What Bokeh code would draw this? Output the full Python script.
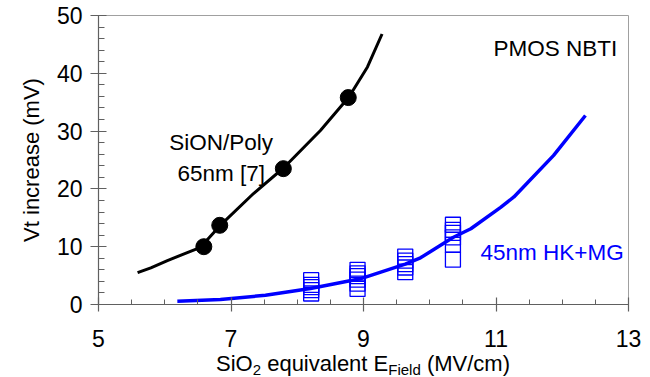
import numpy as np
from bokeh.plotting import figure
from bokeh.models import Range1d, FixedTicker, SingleIntervalTicker, Label, Div
from bokeh.layouts import column
from bokeh.embed import file_html
from bokeh.resources import INLINE

# ---- data ----
sion_x = [6.59, 6.83, 7.79, 8.77]
sion_y = [10.0, 13.7, 23.5, 35.8]

sion_fit_x = [5.59, 5.79, 6.04, 6.54, 6.83, 7.34, 7.80, 8.35, 8.78, 9.06, 9.28]
sion_fit_y = [5.5, 6.35, 7.6, 9.9, 13.6, 19.2, 23.7, 30.1, 35.9, 41.1, 46.8]

hk_x = [8.21] * 5 + [8.91] * 6 + [9.63] * 5 + [10.35] * 6
hk_y = [4.2, 3.4, 3.0, 2.5, 1.9,
        6.0, 5.4, 4.9, 4.3, 3.6, 2.7,
        8.3, 7.6, 7.0, 6.4, 5.6,
        13.8, 12.9, 12.4, 11.6, 10.3, 7.75]

hk_fit_x = [6.19, 6.84, 7.52, 8.20, 8.95, 9.63, 9.86, 10.35, 10.62, 11.07, 11.27, 11.87, 12.35]
hk_fit_y = [0.57, 0.87, 1.6, 2.77, 4.44, 7.0, 8.07, 11.6, 13.1, 16.8, 18.6, 25.8, 32.7]

x_ticks = [5, 7, 9, 11, 13]
x_start, x_end = 5, 13
y_start, y_end, y_step = 0, 50, 10

FONT = "Liberation Sans"
BLUE = "#0000ff"

W = 650
FIG_H = 364
L, R, T, B = 98, 22, 15, 60

p = figure(width=W, height=FIG_H, x_range=Range1d(x_start, x_end), y_range=Range1d(y_start, y_end),
           output_backend="svg", toolbar_location=None,
           min_border_left=L, min_border_right=R, min_border_top=T, min_border_bottom=B)
p.xgrid.visible = False
p.ygrid.visible = False
p.outline_line_color = "#a0a0a0"
p.outline_line_width = 1
p.background_fill_color = "white"
p.border_fill_color = "white"

p.xaxis.ticker = FixedTicker(ticks=x_ticks,
                             minor_ticks=list(np.arange(x_start, x_end + 0.01, 0.5)))
p.yaxis.ticker = SingleIntervalTicker(interval=y_step, num_minor_ticks=5)

for ax in (p.xaxis[0], p.yaxis[0]):
    ax.axis_line_color = "#606060"
    ax.axis_line_width = 1.2
    ax.major_tick_line_color = "#606060"
    ax.minor_tick_line_color = "#606060"
    ax.major_tick_line_width = 1.2
    ax.minor_tick_line_width = 1
    ax.major_label_text_font = FONT
    ax.major_label_text_font_size = "23px"
    ax.major_label_text_color = "black"

p.xaxis.major_tick_in = 7
p.xaxis.major_tick_out = 7
p.xaxis.minor_tick_in = 5
p.xaxis.minor_tick_out = 0
p.xaxis.major_label_standoff = 18

p.yaxis.major_tick_in = 8
p.yaxis.major_tick_out = 8
p.yaxis.minor_tick_in = 6
p.yaxis.minor_tick_out = 0
p.yaxis.major_label_standoff = 8
p.yaxis.axis_label = "Vt increase (mV)"
p.yaxis.axis_label_text_font = FONT
p.yaxis.axis_label_text_font_size = "22px"
p.yaxis.axis_label_text_font_style = "normal"
p.yaxis.axis_label_text_color = "black"
p.yaxis.axis_label_standoff = 10

# ---- marks ----
p.line(sion_fit_x, sion_fit_y, line_color="black", line_width=3)
p.scatter(sion_x, sion_y, marker="circle", size=16, fill_color="black", line_color="black")

p.line(hk_fit_x, hk_fit_y, line_color=BLUE, line_width=3.5)
p.scatter(hk_x, hk_y, marker="square", size=15, fill_color=None, line_color=BLUE, line_width=1.3)

# ---- helpers for positioning text in pixels ----
fw = W - L - R
fh = FIG_H - T - B
def sx(px):
    return x_start + (px - L) * (x_end - x_start) / fw
def sy(py):
    return y_start + (T + fh - py) * (y_end - y_start) / fh

def lab(text, px, py, size="22.5px", color="black", align="left"):
    p.add_layout(Label(x=sx(px), y=sy(py), text=text, text_font=FONT, text_font_size=size,
                       text_color=color, text_align=align, text_baseline="alphabetic"))

lab("PMOS NBTI", 493, 48)
lab("SiON/Poly", 220.7, 141.7, align="center")
lab("65nm [7]", 220.7, 173, align="center")
lab("45nm HK+MG", 480, 251.7, color=BLUE)

# x-axis title with real subscripts, as HTML text below the plot
sub = "font-size:15px;position:relative;top:4px;"
xlabel_html = (
    f'<div style="position:relative;top:-11px;width:{fw}px;margin-left:{L}px;'
    f'text-align:center;font-family:\'{FONT}\';font-size:22px;line-height:22px;'
    f'white-space:nowrap;color:black;">'
    f'SiO<span style="{sub}">2</span> equivalent E<span style="{sub}">Field</span> (MV/cm)'
    f'</div>'
)
div = Div(text=xlabel_html, width=W, height=13, margin=(0, 0, 0, 0))

layout = column(p, div, spacing=0)
open("out.html", "w").write(file_html(layout, INLINE))
